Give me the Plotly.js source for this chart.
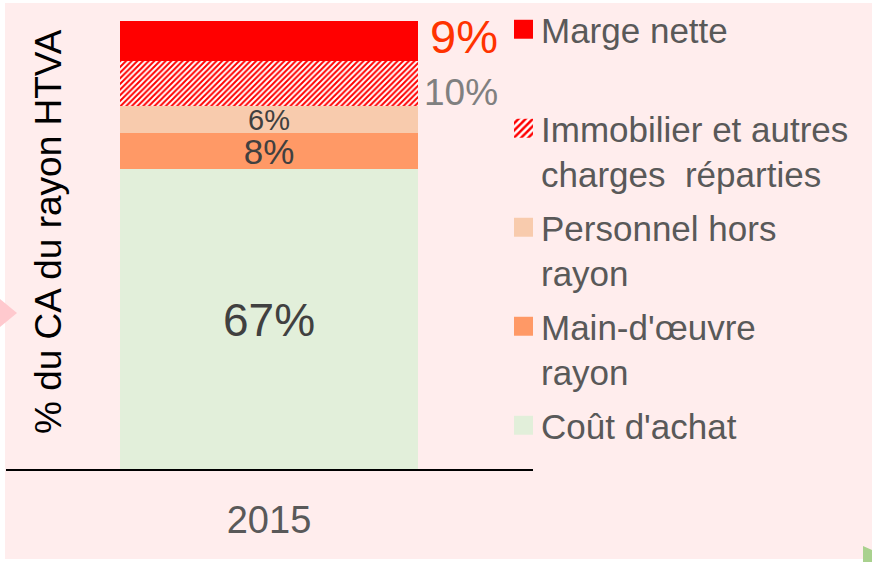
<!DOCTYPE html>
<html>
<head>
<meta charset="utf-8">
<script src="https://cdn.plot.ly/plotly-3.0.1.min.js"></script>
<style>html,body{margin:0;padding:0;background:#fff;}#chart{width:872px;height:562px;}</style>
</head>
<body>
<div id="chart"></div>
<script>
// ---- data ----
const categories = ['2015'];
const seriesNames = ["Coût d'achat", "Main-d'œuvre rayon", "Personnel hors rayon", "Immobilier et autres charges  réparties", "Marge nette"];
const legendLabels = ["Coût d'achat<br> ", "Main-d'œuvre<br>rayon", "Personnel hors<br>rayon", "Immobilier et autres<br>charges \u00a0réparties", "Marge nette<br> "];
const coutAchat = [67];
const mainOeuvre = [8];
const personnel = [6];
const immobilier = [10];
const margeNette = [9];
const yTitle = '% du CA du rayon HTVA';

const FONT = 'Liberation Sans, Arial, sans-serif';
// plot area: x 6..866 (860 px), y 0..470 (470 px); bar top (100%) at y=21
const PW = 860, PH = 470;
const px2x = p => (p - 6) / PW;
const px2y = p => (470 - p) / PH;

const traces = [
  {name: legendLabels[0], y: coutAchat, marker: {color: '#E2EFDA'}, texttemplate: '%{y}%', textfont: {size: 46, color: '#404040'}},
  {name: legendLabels[1], y: mainOeuvre, marker: {color: '#FF9966'}, texttemplate: '%{y}%', textfont: {size: 35, color: '#404040'}},
  {name: legendLabels[2], y: personnel, marker: {color: '#F8CBAD'}, texttemplate: '%{y}%', textfont: {size: 29, color: '#404040'}},
  {name: legendLabels[3], y: immobilier, marker: {color: '#FF0000', pattern: {shape: '/', fgcolor: '#FF0000', bgcolor: '#FFFFFF', size: 4, solidity: 0.5, fillmode: 'replace'}}, texttemplate: ''},
  {name: legendLabels[4], y: margeNette, marker: {color: '#FF0000'}, texttemplate: ''}
].map((t, i, arr) => Object.assign({
  type: 'bar', x: categories, width: 0.565, textposition: 'inside', insidetextanchor: 'middle',
  constraintext: 'none', hoverinfo: 'skip', legendgroup: 'g' + i, legendrank: 5 - i
}, t));
traces.forEach(t => { t.marker.line = {width: 0}; });

const topBase = coutAchat[0] + mainOeuvre[0] + personnel[0];
const unit = 527; // px per category unit
const layout = {
  width: 872, height: 562,
  margin: {l: 6, r: 6, t: 0, b: 92},
  paper_bgcolor: '#FFFFFF', plot_bgcolor: 'rgba(0,0,0,0)',
  barmode: 'stack',
  font: {family: FONT},
  showlegend: true,
  legend: {
    traceorder: 'grouped', valign: 'top',
    x: px2x(501), y: 1, xanchor: 'left', yanchor: 'top',
    font: {size: 35, color: '#595959', family: FONT},
    bgcolor: 'rgba(0,0,0,0)', tracegroupgap: 5, maxheight: 560
  },
  xaxis: {
    type: 'category', range: [-263 / unit, (PW - 263) / unit], showline: false,
    showgrid: false, zeroline: false, ticks: '', tickfont: {size: 38, color: '#595959'}, ticklabelstandoff: 24
  },
  yaxis: {range: [0, 100 * PH / 449], showgrid: false, zeroline: false, showticklabels: false, ticks: '', showline: false},
  shapes: [
    {type: 'rect', xref: 'paper', yref: 'paper', x0: px2x(5), x1: px2x(872), y0: px2y(559), y1: px2y(3), fillcolor: '#FFEDED', line: {width: 0}, layer: 'below'},
    {type: 'path', xref: 'paper', yref: 'paper', path: `M${px2x(0)},${px2y(299)} L${px2x(17)},${px2y(313)} L${px2x(0)},${px2y(327)} Z`, fillcolor: '#FFC9CE', line: {width: 0}, layer: 'below'},
    {type: 'path', xref: 'paper', yref: 'paper', path: `M${px2x(863)},${px2y(546)} L${px2x(872)},${px2y(550)} L${px2x(872)},${px2y(562)} L${px2x(863)},${px2y(562)} Z`, fillcolor: '#A9D18E', line: {width: 0}, layer: 'below'},
    {type: 'line', xref: 'paper', yref: 'paper', x0: px2x(6), x1: px2x(533), y0: 0, y1: 0, line: {color: '#000000', width: 2}, layer: 'above'}
  ],
  annotations: [
    {text: margeNette[0] + '%', xref: 'paper', yref: 'y', x: px2x(428), y: topBase + immobilier[0] + margeNette[0] / 2, xanchor: 'left', yanchor: 'middle', yshift: 5, showarrow: false, font: {size: 47, color: '#FF3300', family: FONT}},
    {text: immobilier[0] + '%', xref: 'paper', yref: 'y', x: px2x(422), y: topBase + immobilier[0] / 2, xanchor: 'left', yanchor: 'middle', yshift: -9, showarrow: false, font: {size: 37, color: '#808080', family: FONT}},
    {text: yTitle, xref: 'paper', yref: 'paper', x: px2x(48), y: px2y(232), xanchor: 'center', yanchor: 'middle', textangle: -90, showarrow: false, font: {size: 37, color: '#000000', family: FONT}}
  ]
};

Plotly.newPlot('chart', traces, layout, {displayModeBar: false, staticPlot: true}).then(gd => {
  // enlarge legend swatches to match the reference square size
  gd.querySelectorAll('.legend .legendpoints path').forEach(p => {
    const t = p.getAttribute('transform') || '';
    p.setAttribute('transform', (t + ' translate(2.5,0) scale(1.58)').trim());
  });
});
</script>
</body>
</html>
